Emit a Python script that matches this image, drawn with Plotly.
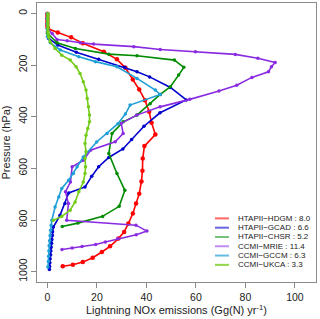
import plotly.graph_objects as go

# ---------------- data (pressure hPa, emissions Gg(N)/yr) ----------------
series_names = ["HTAPII−HDGM", "HTAPII−GCAD", "HTAPII−CHSR", "CCMI−MRIE", "CCMI−GCCM", "CCMI−UKCA"]
series_totals = ["8.0", "6.6", "5.2", "11.4", "6.3", "3.3"]
series_colors = ["#FF0000", "#0000CD", "#008B00", "#8A2BE2", "#1E9FD7", "#74CC1A"]
legend_colors = ["rgba(255,0,0,0.6)", "rgba(0,0,205,0.6)", "rgba(0,139,0,0.55)",
                 "rgba(138,43,226,0.55)", "rgba(30,159,215,0.7)", "rgba(116,204,26,0.8)"]

hdgm_p = [2, 10, 20, 30, 40, 50, 60, 74, 93, 116, 149, 178, 211, 256, 295, 336, 381, 424, 469, 514,
          562, 609, 651, 698, 736, 775, 814, 846, 872, 902, 924, 946, 963, 973, 979]
hdgm_v = [0, 0, 0, 0, 0, 0, 0.3, 4.2, 9.6, 14.3, 22.8, 28.1, 31.5, 34.5, 37.1, 39.4, 41.1, 42.1, 43.6, 39.2,
          38.5, 38.4, 38.0, 37.1, 35.8, 34.5, 32.7, 31.0, 28.7, 25.3, 22.0, 18.3, 14.3, 10.3, 6.2]

gcad_p = [2, 20, 40, 60, 71, 97, 123, 151, 178, 209, 226, 246, 287, 335, 385, 437, 488, 525, 558, 594,
          631, 672, 695, 736, 782, 827, 845, 860, 875, 890, 905, 920, 935, 950, 965, 980, 992]
gcad_v = [0, 0, 0, 0, 0, 0.5, 4.2, 11.7, 20.7, 31.2, 36.2, 41.3, 49.7, 56.1, 45.5, 39.0, 34.0, 30.5, 24.8, 20.7,
          17.9, 15.2, 8.6, 7.1, 5.1, 2.4, 2.1, 2.0, 1.8, 1.7, 1.5, 1.4, 1.3, 1.1, 1.0, 0.9, 0.8]

chsr_p = [2, 20, 40, 60, 77, 114, 136, 158, 164, 181, 209, 239, 284, 314, 350, 394, 420, 465, 543, 620,
          685, 747, 786, 812, 825]
chsr_v = [0, 0, 0, 0, 0, 3.9, 11.3, 24.8, 36.2, 51.3, 55.1, 53.0, 49.7, 45.6, 41.5, 36.2, 30.6, 26.1, 24.8, 28.1,
          31.3, 29.0, 22.3, 12.3, 6.0]

mrie_p = [2, 20, 40, 58, 78, 101, 106, 114, 119, 129, 140, 149, 159, 174, 190, 207, 226, 248, 278, 301,
          333, 362, 394, 426, 465, 497, 530, 569, 594, 653, 691, 736, 801, 820, 843, 857, 872, 885, 895, 903,
          908, 914]
mrie_v = [0, 0, 0, 0, 1.9, 3.9, 8.0, 13.3, 18.7, 34.9, 45.6, 59.8, 75.9, 85.0, 92.0, 90.5, 89.3, 82.6, 76.5, 69.3,
          57.5, 45.5, 36.1, 29.8, 30.6, 27.4, 17.4, 14.5, 10.0, 9.3, 7.3, 8.5, 7.8, 35.8, 40.2, 35.9, 28.5, 23.4, 19.5, 14.0,
          10.0, 5.9]

gccm_p = [2, 20, 40, 60, 90, 114, 142, 168, 187, 207, 252, 297, 314, 355, 390, 427, 465, 498, 556, 594,
          620, 646, 678, 711, 750, 801, 820, 840, 860, 880, 900, 920, 940, 960, 982]
gccm_v = [0, 0, 0, 0, 0, 1.2, 5.2, 12.7, 19.4, 28.1, 36.2, 43.6, 45.6, 33.4, 31.5, 28.5, 24.1, 19.9, 14.5, 12.0,
          10.5, 8.6, 5.8, 4.6, 3.1, 1.8, 1.5, 1.3, 1.1, 0.9, 0.7, 0.6, 0.5, 0.4, 0.2]

ukca_p = [2, 10, 20, 30, 40, 50, 60, 70, 80, 92, 110, 136, 162, 181, 207, 233, 265, 297, 330, 362,
          394, 420, 446, 472, 504, 536, 562, 594, 620, 653, 691, 730, 762, 786, 801]
ukca_v = [0.2, 0.2, 0.2, 0.2, 0.2, 0.2, 0.2, 0.2, 0.3, 0.5, 1.1, 3.1, 5.8, 9.2, 11.6, 13.2, 14.5, 15.6, 16.1, 16.6,
          17.0, 17.0, 16.3, 15.6, 15.2, 15.6, 15.2, 15.4, 15.2, 14.5, 12.7, 11.2, 9.2, 5.8, 2.4]

x_ticks = [0, 20, 40, 60, 80, 100]
y_ticks = [0, 200, 400, 600, 800, 1000]

all_p = [hdgm_p, gcad_p, chsr_p, mrie_p, gccm_p, ukca_p]
all_v = [hdgm_v, gcad_v, chsr_v, mrie_v, gccm_v, ukca_v]
marker_sizes = [4.5, 3.5, 3.5, 3.5, 3.5, 3.5]

fig = go.Figure()
for name, col, ps, vs, ms in zip(series_names, series_colors, all_p, all_v, marker_sizes):
    fig.add_trace(go.Scatter(x=vs, y=ps, mode="lines+markers", name=name,
                             line=dict(color=col, width=1.6),
                             marker=dict(color=col, size=ms),
                             showlegend=False))

# custom compact legend (R style)
row0 = 0.228
dy = 0.0333
for i, (name, tot, lc) in enumerate(zip(series_names, series_totals, legend_colors)):
    yy = row0 - i * dy
    fig.add_shape(type="line", xref="paper", yref="paper", x0=0.638, x1=0.688, y0=yy, y1=yy,
                  line=dict(color=lc, width=2))
    fig.add_annotation(xref="paper", yref="paper", x=0.712, y=yy, xanchor="left", yanchor="middle",
                       text=f"{name} : {tot}", showarrow=False,
                       font=dict(size=8, color="#222", family="Liberation Sans, Arial"))

fig.update_layout(
    width=320, height=319,
    margin=dict(l=37, r=4, t=3, b=37),
    paper_bgcolor="white", plot_bgcolor="white",
    font=dict(family="Liberation Sans, Arial", color="#222"),
    xaxis=dict(range=[-4.2, 108.5], tickvals=x_ticks, ticks="outside", ticklen=5, tickcolor="#888",
               showgrid=False, zeroline=False, showline=True, linecolor="#8c8c8c", linewidth=1, mirror=True,
               tickfont=dict(size=10.5),
               title=dict(text="Lightning NOx emissions (Gg(N) yr<sup>-1</sup>)", font=dict(size=11), standoff=4)),
    yaxis=dict(range=[1040, -40], tickvals=y_ticks, ticks="outside", ticklen=5, tickcolor="#888",
               showgrid=False, zeroline=False, showline=True, linecolor="#8c8c8c", linewidth=1, mirror=True,
               tickangle=-90, tickfont=dict(size=10.5),
               title=dict(text="Pressure (hPa)", font=dict(size=11), standoff=4)),
)

fig.write_html("out.html", config={"displayModeBar": False},
               post_script="document.body.style.margin='0';")
